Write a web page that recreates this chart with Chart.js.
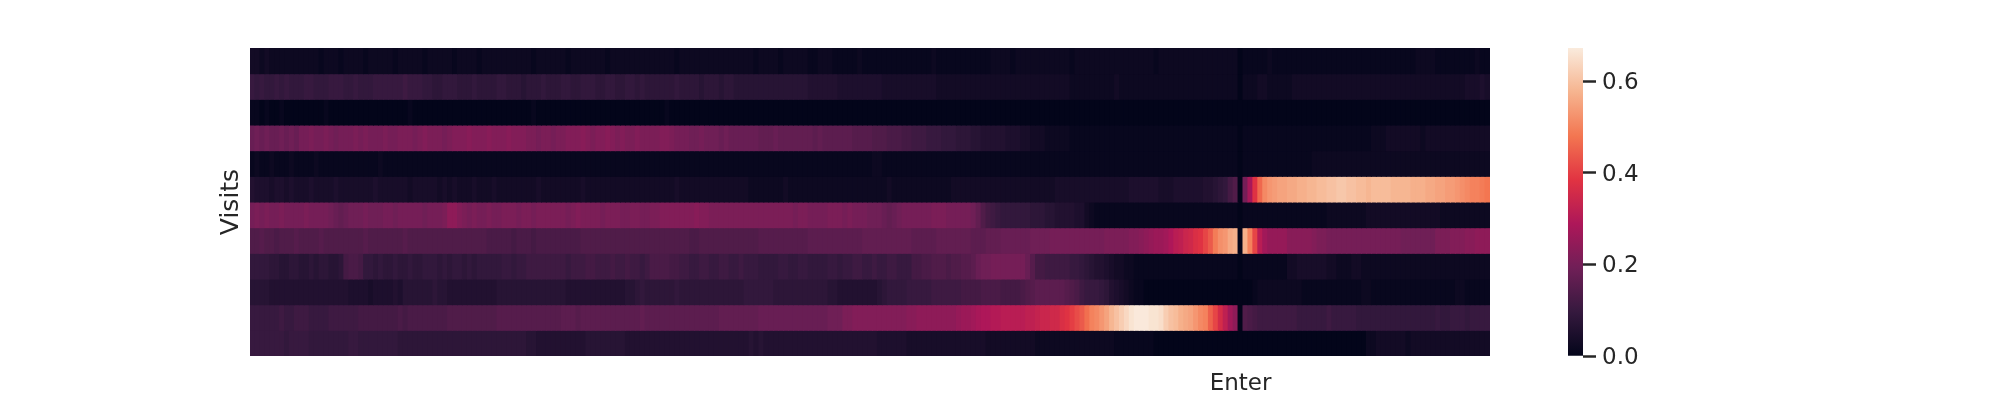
<!DOCTYPE html>
<html>
<head>
<meta charset="utf-8">
<script src="https://cdn.jsdelivr.net/npm/chart.js@4.4.1/dist/chart.umd.min.js"></script>
<style>
  body { margin: 0; background: #fff; overflow: hidden; }
  #wrap { position: relative; width: 2000px; height: 400px; }
  #heat { position: absolute; left: 0; top: 0; }
  #cbar { position: absolute; left: 1540px; top: 0; }
</style>
</head>
<body>
<div id="wrap">
  <canvas id="heat" width="1520" height="400"></canvas>
  <canvas id="cbar" width="143" height="400"></canvas>
</div>
<script>
// cell values in hundredths, 251 steps per visit, step 200 is "Enter"
const row0 = [
  3,3,2,3,2,2,2,2,2,2, 2,2,2,2,1,2,2,2,1,2, 2,2,2,1,2,2,2,2,2,1, 2,2,2,2,2,1,2,2,2,2,
  2,1,2,2,2,2,1,2,2,2, 2,2,2,2,2,2,2,1,2,2, 2,2,2,2,1,2,2,2,2,2, 2,2,1,2,2,2,2,2,2,2,
  2,2,2,2,2,2,1,2,2,2, 2,2,2,2,2,2,2,2,2,2, 2,2,1,2,2,2,2,1,2,2, 2,2,2,1,1,2,2,2,1,1,
  1,1,1,2,1,1,1,1,1,1, 1,1,1,1,1,1,1,1,2,1, 1,1,1,1,1,1,1,1,1,1, 2,2,2,2,1,2,2,2,2,2,
  2,2,2,2,2,2,1,2,2,2, 2,2,2,2,2,2,2,2,2,2, 2,2,2,1,2,2,2,2,2,2, 2,2,2,2,2,2,2,2,2,2,
  0,1,1,1,1,1,2,1,1,1, 1,1,1,1,1,1,1,1,1,1, 1,1,1,1,1,1,1,1,1,1, 1,1,1,1,1,1,2,2,2,2,
  1,1,1,1,1,1,1,1,2,1, 1
];
const row1 = [
  10,9,10,9,9,10,9,10,9,9, 9,10,10,9,9,9,10,10,10,9, 9,10,9,9,9,10,10,10,10,10, 10,11,10,10,10,9,9,8,8,9,
  9,9,8,8,8,9,8,8,8,8, 9,9,8,8,8,7,8,8,8,9, 8,8,8,9,9,8,8,9,9,9, 8,8,9,9,8,8,9,9,8,9,
  8,8,8,8,8,8,9,8,8,8, 8,7,8,8,8,7,8,8,7,7, 7,7,7,7,7,7,7,7,7,7, 7,7,7,6,6,6,6,6,6,5,
  5,5,5,5,5,5,5,5,4,4, 4,4,4,4,4,4,4,4,4,3, 3,3,3,3,3,3,3,3,3,3, 3,3,3,3,3,3,3,3,3,3,
  3,3,3,3,3,3,2,2,2,2, 2,2,2,2,2,3,2,2,2,2, 2,2,2,2,2,2,2,2,2,2, 2,2,2,2,2,2,2,2,2,2,
  0,2,2,2,3,3,2,2,2,2, 2,3,3,3,3,3,3,3,3,3, 3,3,3,3,3,3,3,3,3,3, 3,3,3,3,3,3,3,3,3,3,
  3,3,3,3,3,3,4,4,4,5, 4
];
const row2 = [
  1,1,0,1,0,0,1,0,0,0, 0,0,0,0,0,1,0,0,0,0, 0,0,0,0,0,0,0,0,0,0, 0,0,1,0,0,0,0,0,0,0,
  0,0,0,0,0,0,0,0,0,0, 0,0,0,0,0,0,0,1,0,0, 0,0,0,0,0,0,0,0,0,0, 0,0,0,0,0,0,0,0,0,0,
  0,0,0,0,1,0,0,0,0,0, 0,0,0,0,0,0,0,0,0,0, 0,0,0,0,0,0,0,0,0,0, 0,0,0,0,0,0,0,0,0,0,
  0,0,0,0,0,0,0,0,0,0, 0,0,0,0,0,0,0,0,0,0, 0,0,0,0,0,0,0,0,0,0, 0,0,0,0,0,0,0,0,0,0,
  0,0,0,0,0,0,0,0,0,0, 0,0,0,0,0,0,0,0,0,0, 0,0,0,0,0,0,0,0,0,0, 0,0,0,0,0,0,0,0,0,0,
  0,0,0,0,0,0,0,0,0,0, 0,0,0,0,0,0,0,0,0,0, 0,0,0,0,0,0,0,0,0,0, 0,0,0,0,0,0,0,0,0,0,
  0,0,0,0,0,0,0,0,0,0, 0
];
const row3 = [
  18,19,18,19,18,18,19,18,19,18, 20,20,21,20,20,21,20,19,20,20, 20,21,20,21,20,20,20,21,20,20, 21,21,21,20,21,22,21,21,21,20,
  21,22,22,22,23,22,22,22,23,22, 22,22,23,22,22,22,21,21,20,21, 21,20,21,21,22,22,22,23,22,21, 22,22,23,22,21,22,21,21,22,21,
  21,21,21,22,22,21,20,20,20,19, 19,20,19,19,19,18,19,18,18,18, 18,18,18,17,17,17,18,17,17,17, 17,17,17,17,16,17,16,16,16,16,
  16,16,15,15,15,15,14,14,14,13, 13,13,12,12,11,11,11,10,10,10, 9,9,9,8,8,8,7,7,6,6, 6,6,6,5,5,5,4,4,3,3,
  3,2,2,2,2,2,1,1,1,1, 1,1,1,1,1,1,1,1,1,1, 1,1,1,1,1,1,1,1,1,1, 1,1,1,1,1,1,1,1,1,1,
  0,1,1,1,1,1,1,1,1,1, 1,1,1,1,1,1,1,1,1,1, 1,1,1,1,1,1,1,2,2,2, 3,3,3,3,3,3,3,2,3,3,
  3,3,3,3,3,3,3,3,3,3, 3
];
const row4 = [
  1,2,1,1,2,1,1,1,2,1, 1,1,1,2,1,1,1,1,1,1, 1,1,1,1,1,1,2,1,1,1, 1,1,1,1,1,1,1,1,1,1,
  1,1,1,1,1,1,1,1,1,1, 1,1,1,1,1,1,1,1,1,1, 1,1,1,1,1,1,1,1,1,1, 1,1,1,1,1,1,1,1,1,1,
  1,1,1,1,1,1,1,1,1,1, 1,1,1,1,1,1,1,1,1,1, 1,1,1,1,1,1,1,1,1,1, 1,1,1,1,1,1,1,1,1,1,
  1,1,1,1,1,1,2,2,1,1, 1,1,1,1,1,1,1,1,1,1, 1,1,1,1,1,1,1,1,1,1, 1,1,1,1,1,1,1,1,1,1,
  1,1,1,1,1,1,1,1,1,1, 1,1,1,1,1,1,1,1,1,1, 1,1,1,1,1,1,1,1,1,1, 1,1,1,1,1,1,1,1,1,1,
  0,1,1,1,1,1,1,1,1,1, 1,1,1,1,1,2,2,2,2,2, 2,2,2,2,2,2,2,2,2,2, 2,2,2,2,2,2,2,2,2,2,
  2,2,2,2,2,2,2,2,2,2, 2
];
const row5 = [
  6,5,5,5,4,5,5,4,5,4, 4,4,5,4,4,4,4,5,4,4, 4,4,4,4,4,5,4,4,4,4, 4,4,3,4,4,4,4,4,3,4,
  3,4,3,3,3,4,3,3,3,4, 3,3,3,3,3,3,3,3,4,3, 3,3,3,3,3,3,3,4,3,3, 3,3,3,3,3,3,3,3,3,3,
  3,3,3,3,3,3,4,3,3,3, 3,3,3,3,3,3,3,3,3,3, 3,2,2,2,2,2,2,2,3,2, 2,2,2,2,2,2,2,2,2,2,
  2,2,2,2,2,2,2,2,2,3, 2,2,2,2,2,2,2,2,2,2, 2,2,3,3,3,3,3,3,3,3, 3,3,3,3,3,3,3,3,3,3,
  3,3,3,4,4,4,4,4,4,4, 4,4,4,4,4,4,4,4,5,5, 5,5,5,5,4,4,4,5,5,5, 5,5,5,6,6,7,8,9,12,14,
  0,20,28,38,46,51,53,54,55,55, 56,56,57,57,58,58,59,59,60,60, 61,61,60,60,59,59,58,59,59,59, 59,58,58,58,58,57,57,57,56,56,
  55,55,54,54,53,52,51,50,50,49, 48
];
const row6 = [
  20,21,20,21,20,20,21,20,20,20, 20,21,20,20,20,20,19,18,17,18, 19,19,19,20,19,19,19,20,20,19, 20,20,20,20,20,19,20,20,20,21,
  24,24,22,21,20,21,20,20,21,20, 20,21,21,21,20,21,21,20,21,21, 21,21,21,21,20,21,22,21,21,21, 21,20,21,21,21,20,20,21,21,20,
  20,21,21,22,22,22,22,22,22,22, 23,22,22,21,21,21,21,21,21,21, 21,21,21,21,21,21,21,21,21,21, 20,21,21,20,20,20,20,21,21,21,
  20,21,20,20,20,19,19,19,18,17, 18,19,20,20,20,20,20,20,21,21, 21,20,20,20,20,20,19,17,14,12, 11,10,9,9,9,9,9,9,8,8,
  8,7,7,6,6,6,6,5,5,3, 2,1,1,1,1,1,1,1,1,1, 1,1,1,1,1,1,1,1,1,1, 1,1,1,1,1,1,1,1,1,1,
  0,1,1,1,1,1,1,1,1,1, 1,1,1,1,1,1,1,1,2,2, 2,2,2,2,2,2,3,3,3,3, 3,3,3,3,3,3,3,3,3,3,
  3,2,2,2,2,2,2,2,2,2, 2
];
const row7 = [
  14,14,15,14,14,13,14,14,14,15, 14,14,14,14,15,14,14,14,14,14, 14,14,14,15,14,14,14,14,14,14, 14,15,14,14,14,14,14,14,14,14,
  14,14,14,14,14,14,14,14,13,13, 13,13,13,12,13,13,13,12,13,13, 13,13,13,13,13,13,13,14,14,14, 14,14,14,14,14,14,14,14,14,14,
  14,14,14,14,14,14,14,14,14,13, 13,14,14,14,14,14,14,14,14,14, 14,14,14,15,15,15,15,15,15,15, 15,15,15,16,16,16,16,16,16,16,
  16,16,16,16,17,17,17,17,17,17, 17,17,17,17,16,16,16,16,16,17, 17,17,17,17,17,17,16,16,16,17, 17,17,18,18,18,18,18,18,19,19,
  19,19,20,20,20,20,20,20,20,20, 20,20,20,21,21,21,21,21,22,22, 23,24,25,26,26,27,29,31,32,34, 35,37,38,41,44,49,52,53,56,57,
  0,57,50,41,31,27,25,25,25,25, 23,23,23,23,23,22,21,21,20,20, 20,20,20,20,20,20,20,20,20,20, 20,20,20,19,19,19,19,19,19,19,
  21,21,21,22,22,22,23,23,24,24, 24
];
const row8 = [
  9,9,9,9,8,8,7,7,8,8, 7,7,8,7,8,8,7,7,8,12, 13,13,12,9,9,8,9,8,8,9, 8,8,9,8,8,9,9,9,8,9,
  8,9,9,8,9,8,9,9,9,9, 9,10,10,9,10,10,11,11,11,11, 11,11,11,11,10,11,11,11,12,12, 11,11,11,12,11,11,12,11,11,10,
  11,13,13,13,13,12,12,11,11,10, 10,11,11,10,10,11,11,10,10,11, 10,10,10,9,9,9,9,10,10,9, 9,10,10,9,9,9,9,10,10,9,
  10,10,11,11,10,10,11,10,10,11, 11,10,10,10,12,12,13,13,14,14, 14,13,14,14,15,15,16,18,19,19, 20,20,20,20,20,20,20,18,15,12,
  12,11,11,11,11,11,10,10,9,8, 7,6,6,5,4,3,3,2,2,1, 1,1,1,1,1,1,1,1,1,1, 1,1,1,1,1,1,1,1,1,1,
  0,1,1,1,1,1,1,1,1,1, 3,3,4,4,4,4,4,4,3,3, 2,2,2,3,3,2,2,2,2,2, 2,2,2,2,2,2,2,2,2,2,
  2,2,2,2,2,2,2,2,2,2, 2
];
const row9 = [
  7,7,7,7,6,6,6,6,6,6, 6,6,6,6,6,6,6,6,6,6, 5,5,5,5,4,5,5,5,5,6, 5,7,7,7,7,7,7,8,7,7,
  6,6,6,6,6,6,6,6,6,6, 7,7,7,7,7,7,7,7,7,7, 7,7,7,7,6,6,6,6,6,6, 6,6,6,6,6,6,7,7,8,9,
  8,8,8,8,8,8,9,8,8,8, 8,8,8,8,8,8,8,8,8,8, 9,9,9,9,9,9,8,8,8,8, 8,8,8,8,8,8,8,7,7,6,
  6,6,6,6,6,6,6,7,8,9, 9,9,9,10,10,10,10,10,11,11, 11,11,11,11,12,12,12,12,13,13, 13,13,12,12,12,12,13,14,15,16,
  16,16,16,16,16,15,14,13,11,10, 10,10,9,8,6,5,4,3,2,1, 1,0,0,0,0,0,0,0,0,0, 0,0,0,0,0,0,0,0,0,0,
  0,0,0,1,2,2,2,2,2,2, 2,2,2,1,1,1,1,1,1,1, 1,1,1,1,1,2,2,1,1,1, 1,1,1,1,1,1,1,1,1,1,
  1,1,1,1,2,2,1,1,1,1, 1
];
const row10 = [
  10,10,10,10,10,10,11,10,10,11, 11,11,10,10,10,10,11,11,11,11, 11,11,12,12,12,12,12,12,12,12, 13,12,13,13,13,13,13,13,13,13,
  14,14,14,14,14,14,14,14,14,14, 15,15,15,15,15,15,15,15,15,15, 15,15,15,16,16,16,15,16,16,16, 16,16,16,16,16,16,16,16,16,17,
  16,16,16,16,16,16,16,16,16,16, 16,16,16,16,16,17,17,17,17,17, 17,17,17,18,18,18,18,18,18,18, 18,18,18,18,18,18,18,19,19,19,
  21,21,22,22,22,22,22,22,22,22, 22,22,22,23,23,24,24,24,24,24, 24,24,24,25,26,26,27,28,29,29, 30,30,31,31,31,31,31,32,32,33,
  34,34,35,35,37,38,40,42,44,47, 50,51,53,55,58,60,62,64,66,67, 67,67,66,66,65,62,60,59,57,56, 55,53,51,50,45,41,36,32,27,24,
  0,14,13,12,11,11,11,11,11,11, 11,11,10,10,10,10,10,10,11,10, 10,10,10,10,9,9,9,9,9,9, 9,9,9,9,9,9,9,9,9,9,
  10,9,9,10,10,10,9,10,10,10, 10
];
const row11 = [
  10,10,10,10,10,10,10,9,10,10, 10,10,9,9,9,9,9,9,9,9, 10,10,9,9,9,9,9,9,9,9, 8,8,8,8,8,8,8,8,8,8,
  8,8,8,8,8,8,8,8,8,8, 8,8,8,8,8,8,7,7,6,6, 6,6,6,6,6,6,6,6,7,7, 7,7,7,7,7,7,6,6,6,6,
  6,6,6,6,6,6,6,6,6,6, 6,6,6,6,6,6,6,6,6,6, 6,7,6,7,6,6,6,6,6,6, 6,6,6,6,6,6,6,6,6,6,
  6,6,6,6,6,6,6,5,5,5, 5,5,5,4,4,4,4,4,4,4, 4,4,4,4,4,4,4,4,4,3, 3,3,3,3,3,3,3,3,3,2,
  2,2,2,2,2,2,2,2,2,2, 2,2,2,2,2,1,1,1,1,1, 1,1,1,0,0,0,0,0,0,0, 0,0,0,0,0,0,0,0,0,0,
  0,0,0,0,0,0,0,0,0,0, 0,0,0,0,0,0,0,0,0,0, 0,0,0,0,0,0,2,2,3,3, 3,3,3,3,2,3,3,3,3,3,
  3,3,3,3,3,3,3,3,3,3, 3
];

const rows = [row0, row1, row2, row3, row4, row5, row6, row7, row8, row9, row10, row11];
const SCALE = 100;
const enterIndex = 200;
const xLabels = row0.map((v, i) => (i === enterIndex ? "Enter" : ""));
const VMAX = 0.673;
const cbarTicks = [0, 0.2, 0.4, 0.6];

// seaborn "rocket" colour stops
const rocketStops = ["#03051a", "#35193e", "#701f57", "#ad1759", "#e13342", "#f37651", "#f6b48f", "#faebdd"];

function hexToRgb(h) {
  return [parseInt(h.slice(1, 3), 16), parseInt(h.slice(3, 5), 16), parseInt(h.slice(5, 7), 16)];
}
const stopRgb = rocketStops.map(hexToRgb);

function rocket(t) {
  t = Math.max(0, Math.min(1, t));
  const p = t * (stopRgb.length - 1);
  const i = Math.min(Math.floor(p), stopRgb.length - 2);
  const f = p - i;
  const a = stopRgb[i], b = stopRgb[i + 1];
  const c = a.map((v, k) => Math.round(v + (b[k] - v) * f));
  return "rgb(" + c.join(",") + ")";
}

const textColor = "#262626";
const fontFamily = "'DejaVu Sans', sans-serif";

const datasets = rows.map((row, r) => ({
  label: "visit " + (r + 1),
  data: row.map(() => 1),
  backgroundColor: row.map((v) => rocket(v / SCALE / VMAX)),
  borderWidth: 0,
  barPercentage: 1,
  categoryPercentage: 1,
  inflateAmount: 0.5,
}));

const heatChart = new Chart(document.getElementById("heat"), {
  type: "bar",
  data: { labels: xLabels, datasets: datasets },
  options: {
    responsive: false,
    animation: false,
    events: [],
    layout: { padding: { left: 216, right: 30, top: 48, bottom: 0 } },
    plugins: { legend: { display: false }, tooltip: { enabled: false } },
    scales: {
      x: {
        stacked: true,
        grid: { display: false },
        border: { display: false },
        afterFit: (axis) => { axis.height = 44; },
        ticks: {
          autoSkip: false,
          maxRotation: 0,
          minRotation: 0,
          padding: 6.5,
          color: textColor,
          font: { family: fontFamily, size: 23 },
          callback: (v, i) => xLabels[i],
        },
      },
      y: {
        stacked: true,
        reverse: true,
        min: 0,
        max: rows.length,
        grid: { display: false },
        border: { display: false },
        ticks: { display: false },
        title: {
          display: true,
          text: "Visits",
          color: textColor,
          font: { family: fontFamily, size: 25 },
          padding: 0,
        },
        afterFit: (axis) => { axis.width = 34; },
      },
    },
  },
});

function cbarGradient(context) {
  const chart = context.chart;
  const area = chart.chartArea;
  if (!area) return rocketStops[0];
  const g = chart.ctx.createLinearGradient(0, area.bottom, 0, area.top);
  rocketStops.forEach((c, i) => g.addColorStop(i / (rocketStops.length - 1), c));
  return g;
}

const cbarChart = new Chart(document.getElementById("cbar"), {
  type: "bar",
  data: {
    labels: [""],
    datasets: [{
      data: [[0, VMAX]],
      backgroundColor: cbarGradient,
      borderWidth: 0,
      barPercentage: 1,
      categoryPercentage: 1,
    }],
  },
  options: {
    responsive: false,
    animation: false,
    events: [],
    layout: { padding: { left: 28, right: 0, top: 48, bottom: 44 } },
    plugins: { legend: { display: false }, tooltip: { enabled: false } },
    scales: {
      x: { display: false },
      y: {
        position: "right",
        min: 0,
        max: VMAX,
        afterBuildTicks: (axis) => { axis.ticks = cbarTicks.map((v) => ({ value: v })); },
        grid: { drawOnChartArea: false, drawTicks: true, tickLength: 13, tickWidth: 2.5, tickColor: textColor },
        border: { display: false },
        ticks: {
          padding: 6,
          labelOffset: 2,
          color: textColor,
          font: { family: fontFamily, size: 23 },
          callback: (v) => v.toFixed(1),
        },
        afterFit: (axis) => { axis.width = 100; },
      },
    },
  },
});
</script>
</body>
</html>
